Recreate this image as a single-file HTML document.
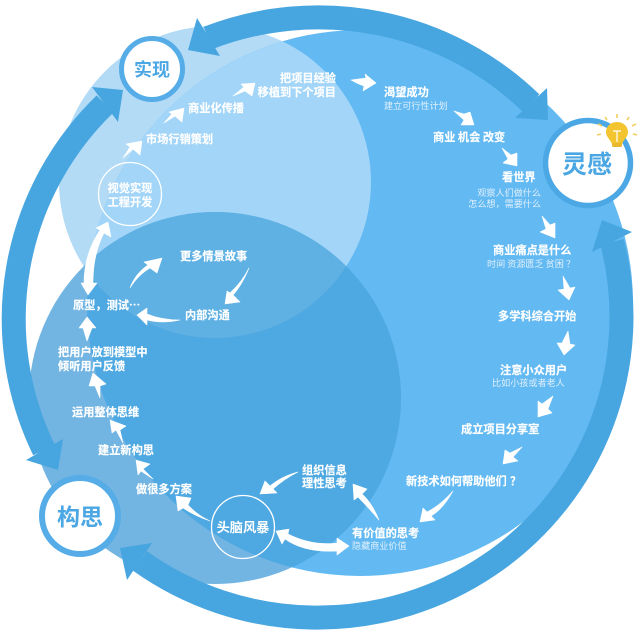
<!DOCTYPE html>
<html lang="zh">
<head>
<meta charset="utf-8">
<style>
html,body{margin:0;padding:0;background:#fff;}
svg{display:block;}
text{font-family:"Noto Sans CJK SC","Liberation Sans",sans-serif;fill:#fff;}
.b{font-weight:700;font-size:11.2px;stroke:#fff;stroke-width:.15px;}
.s{font-size:9.1px;fill:#dff0fc;}
</style>
</head>
<body>
<svg width="640" height="638" viewBox="0 0 640 638" xmlns="http://www.w3.org/2000/svg">
<defs>
<clipPath id="cL"><circle cx="215" cy="182" r="156"/></clipPath>
<clipPath id="cM"><circle cx="360" cy="303" r="273"/></clipPath>
<clipPath id="cT"><circle cx="215" cy="398" r="186"/></clipPath>
</defs>
<rect width="640" height="638" fill="#fff"/>

<!-- overlapping circles -->
<circle cx="215" cy="182" r="156" fill="#b3dbf6"/>
<circle cx="215" cy="398" r="186" fill="#72b4e2"/>
<g clip-path="url(#cL)"><circle cx="215" cy="398" r="186" fill="#6db4e4"/></g>
<circle cx="360" cy="303" r="273" fill="#63b9f2"/>
<g clip-path="url(#cM)">
  <circle cx="215" cy="182" r="156" fill="#a2d5f8"/>
  <circle cx="215" cy="398" r="186" fill="#4ea8e1"/>
  <g clip-path="url(#cL)"><circle cx="215" cy="398" r="186" fill="#5fb0e3"/></g>
</g>

<!-- outer ring arcs -->
<g fill="none" stroke="#47a5e0" stroke-width="24">
  <path d="M208,38 A304,301 0 0 1 531,103"/>
  <path d="M44,450 A304,301 0 0 1 105,104"/>
  <path d="M612,242 A304,301 0 0 1 140,561"/>
</g>
<g fill="#47a5e0">
  <polygon points="188,50 197,18 220,56"/>
  <polygon points="548,120 547,88 515,118"/>
  <polygon points="123,90 92,87 118,122"/>
  <polygon points="58,470 26,460 63,439"/>
  <polygon points="602,220 632,232 592,252"/>
  <polygon points="120,548 152,543 127,580"/>
</g>

<!-- nodes -->
<circle cx="152" cy="69" r="30.5" fill="#fff" stroke="#55ace6" stroke-width="5"/>
<circle cx="588" cy="163" r="42.5" fill="#fff" stroke="#4ba8e4" stroke-width="5.5"/>
<circle cx="80" cy="516" r="38" fill="#fff" stroke="#55ace6" stroke-width="6"/>
<text x="152" y="76" text-anchor="middle" style="font-weight:700;font-size:18px;fill:#4ba7e3">实现</text>
<text x="587" y="173" text-anchor="middle" style="font-weight:700;font-size:25px;fill:#4ba7e3">灵感</text>
<text x="80" y="525" text-anchor="middle" style="font-weight:700;font-size:23px;fill:#4ba7e3">构思</text>

<!-- bulb -->
<g>
  <path d="M617,122 C624,122 628,127 628,132 C628,137 624,139 622,144 L612,144 C610,139 606,137 606,132 C606,127 610,122 617,122 Z" fill="#f2c530"/>
  <rect x="612" y="143" width="10" height="4" rx="1.5" fill="#e8b92c"/>
  <path d="M613,131 h8 M617,131 v11" stroke="#fff" stroke-width="1.2" fill="none"/>
  <g stroke="#f2cf60" stroke-width="1.6">
    <path d="M617,118 v-4"/><path d="M627,120 l2,-3"/><path d="M632,126 l4,-2"/><path d="M633,134 l4,1"/>
    <path d="M607,120 l-2,-3"/><path d="M602,126 l-4,-2"/><path d="M601,134 l-4,1"/>
  </g>
</g>

<!-- inner outlined circles -->
<circle cx="130" cy="194" r="31.5" fill="none" stroke="#fff" stroke-width="1.3"/>
<circle cx="243" cy="527" r="31.5" fill="none" stroke="#fff" stroke-width="1.3"/>

<!-- white arrows -->
<g fill="#fff" stroke="#fff" stroke-width=".6" stroke-linejoin="round">
  <path d="M351,80 Q358,79 366,78 L365,74 L376,83 L363,91 L364,86 Q358,84 351,80 Z"/>
  <polygon points="454,111 464,114 470,112 474,125 461,125 464,120"/>
  <polygon points="502,148 511,155 517,153 517,166 503,163 508,159"/>
  <polygon points="542,216 550,225 555,223 555,238 540,232 546,229"/>
  <polygon points="563,276 570,288 575,287 569,300 558,290 564,289"/>
  <polygon points="568,331 570,344 575,345 564,355 557,343 562,343"/>
  <polygon points="553,396 548,409 552,413 538,417 538,401 542,404"/>
  <polygon points="522,447 513,457 518,461 503,464 505,450 510,453"/>
  <path d="M453,491 Q443,509 431,516 L435,520 L420,522 L423,508 L427,512 Q441,505 453,491 Z"/>
  <path d="M379,520 Q372,503 362,494 L367,489 L353,484 L354,500 L358,497 Q368,507 379,520 Z"/>
  <path d="M276,531 L289,529 L288,534 Q312,546 337,543 L337,538 L349,546 L337,555 L337,551 Q305,553 285,539 L282,544 Z"/>
  <path d="M298,472 Q282,476 270,486 L265,481 L260,494 L277,493 L273,489 Q284,479 298,472 Z"/>
  <path d="M210,521 Q197,515 188,505 L191,498 L176,496 L178,511 L183,508 Q195,516 210,521 Z"/>
  <polygon points="153,479 143,469 150,464 136,460 138,475 141,471"/>
  <polygon points="123,443 120,430 126,426 110,420 112,433 116,430"/>
  <polygon points="100,398 100,386 106,384 93,373 89,386 95,386"/>
  <polygon points="87,341 92,328 96,328 87,317 79,328 83,328"/>
  <path d="M88,295 L97,283 L93,283 Q93,254 104,233 L111,237 L108,222 L96,228 L100,230 Q84,254 84,283 L81,283 Z"/>
  <polygon points="123,158 133,149 140,155 142,141 126,144 130,147"/>
  <polygon points="164,123 175,116 182,122 184,108 169,112 172,114"/>
  <polygon points="233,96 245,91 252,96 255,83 241,84 244,87"/>
  <path d="M130,288 Q138,275 150,268 L157,273 L162,258 L144,262 L148,265 Q135,274 130,288 Z"/>
  <path d="M249,268 Q242,285 233,295 L240,302 L225,304 L227,291 L230,293 Q242,282 249,268 Z"/>
  <path d="M180,320 Q162,324 147,320 L147,325 L137,315 L147,308 L147,314 Q162,320 180,320 Z"/>
</g>

<!-- labels -->
<g>
  <text class="b" x="336" y="82" text-anchor="end">把项目经验</text>
  <text class="b" x="336" y="96" text-anchor="end">移植到下个项目</text>
  <text class="b" x="188" y="112">商业化传播</text>
  <text class="b" x="146" y="143">市场行销策划</text>
  <text class="b" x="130" y="192" text-anchor="middle">视觉实现</text>
  <text class="b" x="130" y="206" text-anchor="middle">工程开发</text>
  <text class="b" x="180" y="260">更多情景故事</text>
  <text class="b" x="185" y="319">内部沟通</text>
  <text class="b" x="73" y="309">原型，测试…</text>
  <text class="b" x="58" y="356">把用户放到模型中</text>
  <text class="b" x="58" y="370">倾听用户反馈</text>
  <text class="b" x="72" y="416">运用整体思维</text>
  <text class="b" x="98" y="454">建立新构思</text>
  <text class="b" x="136" y="493">做很多方案</text>
  <text x="243" y="532" text-anchor="middle" style="font-weight:700;font-size:13.2px">头脑风暴</text>
  <text class="b" x="302" y="474">组织信息</text>
  <text class="b" x="302" y="487">理性思考</text>
  <text class="b" x="352" y="537">有价值的思考</text>
  <text class="s" x="352" y="549">隐藏商业价值</text>
  <text class="b" x="406" y="485">新技术如何帮助他们</text>
  <text class="b" x="510" y="485">？</text>
  <text class="b" x="461" y="433">成立项目分享室</text>
  <text class="b" x="500" y="374">注意小众用户</text>
  <text class="s" x="492" y="386">比如小孩或者老人</text>
  <text class="b" x="498" y="320">多学科综合开始</text>
  <text class="b" x="493" y="254">商业痛点是什么</text>
  <text class="s" x="487" y="267">时间 资源匮乏 贫困</text>
  <text class="s" x="566" y="267">？</text>
  <text class="b" x="502" y="181">看世界</text>
  <text class="s" x="541" y="196" text-anchor="end">观察人们做什么</text>
  <text class="s" x="541" y="207" text-anchor="end">怎么想，需要什么</text>
  <text class="b" x="433" y="141">商业 机会 改变</text>
  <text class="b" x="384" y="96">渴望成功</text>
  <text class="s" x="384" y="109">建立可行性计划</text>
</g>
</svg>
</body>
</html>
